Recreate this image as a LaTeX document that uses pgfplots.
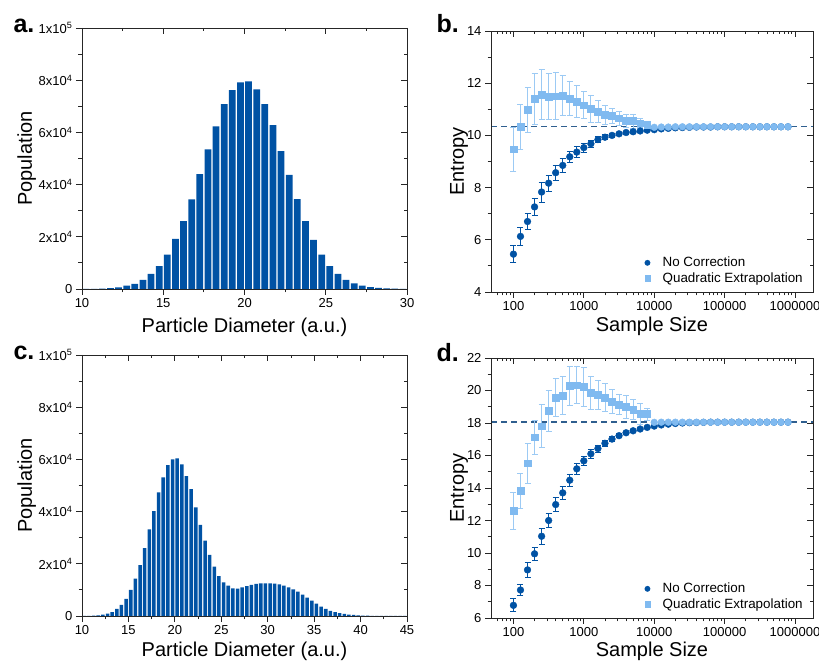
\documentclass[border=0pt]{standalone}
\usepackage{fontspec}
\setmainfont{Liberation Sans}
\usepackage{pgfplots}
\pgfplotsset{compat=1.18}
\definecolor{barblue}{HTML}{0052A4}
\definecolor{lightb}{HTML}{80BAF0}
\definecolor{lighterr}{HTML}{9CCAF4}
\definecolor{dashc}{HTML}{2F5F8F}
\pgfplotsset{
  base/.style={scale only axis, axis line style={line width=0.9pt, black!85},
    every tick/.style={black!85, line width=0.8pt},
    major tick length=6pt, minor tick length=3.5pt,
    tick label style={font=\fontsize{13}{15}\selectfont},
    label style={font=\fontsize{20}{24}\selectfont},
    scaled y ticks=false, scaled x ticks=false},
  mainax/.style={base, tick align=outside, xtick pos=bottom, ytick pos=left},
  mirrorax/.style={base, tick align=inside, xtick pos=top, ytick pos=right,
    xticklabels={}, yticklabels={}},
  darkpts/.style={only marks, mark=*, mark size=3.4pt, color=barblue,
    error bars/.cd, y dir=both, y explicit,
    error bar style={line width=0.8pt, barblue},
    error mark options={rotate=90, mark size=3pt, line width=0.8pt, barblue}},
  lightpts/.style={only marks, mark=square*, mark size=3.4pt, color=lightb,
    error bars/.cd, y dir=both, y explicit,
    error bar style={line width=0.8pt, lighterr},
    error mark options={rotate=90, mark size=3pt, line width=0.8pt, lighterr}},
  mylegend/.style={legend style={at={(axis description cs:0.466,0.016)}, anchor=south west, draw=none, fill=none,
    font=\fontsize{13.4}{15}\selectfont, row sep=0pt, inner sep=2pt, nodes={inner sep=2pt}},
    legend cell align=left,
    legend image code/.code={\path (-4pt,0pt) (13pt,0pt); \draw[##1, mark size=2.7pt] plot coordinates {(0pt,0pt)};}},
}
\begin{document}
\begin{tikzpicture}
\useasboundingbox (0,0) rectangle (819pt,661pt);
% ---------------- panel a
\begin{axis}[mainax, at={(82pt,372pt)}, anchor=south west, width=325pt, height=261pt,
  xmin=10, xmax=30, ymin=0, ymax=100000,
  xtick={10,15,20,25,30}, xticklabels={10,15,20,25,30},
  ytick={0,20000,40000,60000,80000,100000},
  yticklabels={0,2x10\textsuperscript{4},4x10\textsuperscript{4},6x10\textsuperscript{4},8x10\textsuperscript{4},1x10\textsuperscript{5}},
  minor xtick={12.5,17.5,22.5,27.5}, minor ytick={10000,30000,50000,70000,90000},
  xlabel={Particle Diameter (a.u.)}, ylabel={Population},
  xlabel style={at={(axis description cs:0.5,-0.165)}, anchor=base},
  ylabel style={at={(axis description cs:-0.17,0.5)}, anchor=center},
  ybar, bar width=0.42]
\addplot[fill=barblue, draw=none] coordinates {
(10.25,40) (10.75,80) (11.25,150) (11.75,300) (12.25,600) (12.75,1300) (13.25,2000) (13.75,3500)
(14.25,5800) (14.75,8800) (15.25,13200) (15.75,19200) (16.25,26000) (16.75,34300) (17.25,44000)
(17.75,53500) (18.25,62300) (18.75,70800) (19.25,76200) (19.75,79200) (20.25,79500) (20.75,76500)
(21.25,70800) (21.75,62800) (22.25,52800) (22.75,43700) (23.25,34400) (23.75,26000) (24.25,18800)
(24.75,13200) (25.25,8800) (25.75,5800) (26.25,3500) (26.75,2200) (27.25,1300) (27.75,700)
(28.25,400) (28.75,200) (29.25,100) (29.75,50)};
\end{axis}
\begin{axis}[mirrorax, at={(82pt,372pt)}, anchor=south west, width=325pt, height=261pt,
  xmin=10, xmax=30, ymin=0, ymax=100000,
  xtick={10,15,20,25,30}, minor xtick={12.5,17.5,22.5,27.5},
  ytick={0,20000,40000,60000,80000,100000}, minor ytick={10000,30000,50000,70000,90000}]
\end{axis}
% ---------------- panel c
\begin{axis}[mainax, at={(82pt,45pt)}, anchor=south west, width=325pt, height=261pt,
  xmin=10, xmax=45, ymin=0, ymax=100000,
  xtick={10,15,20,25,30,35,40,45}, xticklabels={10,15,20,25,30,35,40,45},
  minor xtick={12.5,17.5,22.5,27.5,32.5,37.5,42.5},
  ytick={0,20000,40000,60000,80000,100000}, minor ytick={10000,30000,50000,70000,90000},
  yticklabels={0,2x10\textsuperscript{4},4x10\textsuperscript{4},6x10\textsuperscript{4},8x10\textsuperscript{4},1x10\textsuperscript{5}},
  xlabel={Particle Diameter (a.u.)}, ylabel={Population},
  xlabel style={at={(axis description cs:0.5,-0.157)}, anchor=base},
  ylabel style={at={(axis description cs:-0.17,0.5)}, anchor=center},
  ybar, bar width=0.38]
\addplot[fill=barblue, draw=none] coordinates {
(10.25,30) (10.75,60) (11.25,120) (11.75,250) (12.25,500) (12.75,900) (13.25,1500) (13.75,2700)
(14.25,4300) (14.75,6600) (15.25,10000) (15.75,14300) (16.25,19500) (16.75,26000) (17.25,33200)
(17.75,40200) (18.25,47400) (18.75,53100) (19.25,57800) (19.75,60000) (20.25,60400) (20.75,58100)
(21.25,53600) (21.75,48600) (22.25,41600) (22.75,34900) (23.25,28900) (23.75,23400) (24.25,18900)
(24.75,15300) (25.25,12900) (25.75,11600) (26.25,10600) (26.75,10500) (27.25,11000) (27.75,11400)
(28.25,11900) (28.75,12300) (29.25,12500) (29.75,12500) (30.25,12500) (30.75,12400) (31.25,12100)
(31.75,11600) (32.25,11000) (32.75,10200) (33.25,9300) (33.75,8200) (34.25,7000) (34.75,5900)
(35.25,4700) (35.75,3600) (36.25,2700) (36.75,2000) (37.25,1500) (37.75,1100) (38.25,800)
(38.75,500) (39.25,400) (39.75,250) (40.25,150) (40.75,100) (41.25,60) (41.75,40) (42.25,20)
(42.75,10) (43.25,5) (43.75,5) (44.25,5) (44.75,5)};
\end{axis}
\begin{axis}[mirrorax, at={(82pt,45pt)}, anchor=south west, width=325pt, height=261pt,
  xmin=10, xmax=45, ymin=0, ymax=100000,
  xtick={10,15,20,25,30,35,40,45}, minor xtick={12.5,17.5,22.5,27.5,32.5,37.5,42.5},
  ytick={0,20000,40000,60000,80000,100000}, minor ytick={10000,30000,50000,70000,90000}]
\end{axis}
% ---------------- panel b
\begin{axis}[mainax, mylegend, xmode=log, xmin=48, xmax=1.8e6,
  xtick={100,1000,10000,100000,1000000},
  minor xtick={60,70,80,90,200,300,400,500,600,700,800,900,2000,3000,4000,5000,6000,7000,8000,9000,20000,30000,40000,50000,60000,70000,80000,90000,200000,300000,400000,500000,600000,700000,800000,900000},
  at={(491pt,369pt)}, anchor=south west, width=322pt, height=261pt,
  ymin=4, ymax=14, ytick={4,6,8,10,12,14}, yticklabels={4,6,8,10,12,14},
  minor ytick={5,7,9,11,13},
  xticklabels={100,1000,10000,100000,1000000},
  xlabel={Sample Size}, ylabel={Entropy},
  xlabel style={at={(axis description cs:0.5,-0.153)}, anchor=base},
  ylabel style={at={(axis description cs:-0.099,0.5)}, anchor=center}]
\addplot[dashc, line width=1.3pt, dash pattern=on 6pt off 4pt, forget plot] coordinates {(48,10.34) (1.8e6,10.34)};
\addplot[darkpts] coordinates {
(100,5.45) +- (0,0.32) (125.9,6.13) +- (0,0.35) (158.5,6.70) +- (0,0.31) (199.5,7.26) +- (0,0.32)
(251.2,7.83) +- (0,0.38) (316.2,8.17) +- (0,0.30) (398.1,8.57) +- (0,0.28) (501.2,8.85) +- (0,0.25)
(631.0,9.18) +- (0,0.22) (794.3,9.36) +- (0,0.20) (1000,9.53) +- (0,0.17) (1258.9,9.68) +- (0,0.14)
(1584.9,9.84) +- (0,0.12) (1995.3,9.93) +- (0,0.10) (2511.9,10.00) +- (0,0.08) (3162.3,10.06) +- (0,0.07)
(3981.1,10.11) +- (0,0.06) (5011.9,10.14) +- (0,0.05) (6309.6,10.17) +- (0,0.04) (7943.3,10.20) +- (0,0.04)
(10000,10.22) +- (0,0.03) (12589,10.25) +- (0,0.03) (15849,10.27) +- (0,0.02) (19953,10.29) +- (0,0.02)
(25119,10.30) +- (0,0.02) (31623,10.31) +- (0,0.01) (39811,10.32) +- (0,0.01) (50119,10.32) +- (0,0.01)
(63096,10.32) +- (0,0.01) (79433,10.33) +- (0,0.01) (100000,10.33) +- (0,0.01) (125893,10.33) +- (0,0.01)
(158489,10.33) +- (0,0.01) (199526,10.33) +- (0,0.01) (251189,10.33) +- (0,0.01) (316228,10.33) +- (0,0.01)
(398107,10.33) +- (0,0.01) (501187,10.33) +- (0,0.01) (630957,10.33) +- (0,0.01) (794328,10.33) +- (0,0.01)};
\addlegendentry{No Correction}
\addplot[lightpts] coordinates {
(100,9.47) +- (0,0.85) (125.9,10.33) +- (0,0.87) (158.5,10.97) +- (0,0.87) (199.5,11.41) +- (0,0.97)
(251.2,11.56) +- (0,0.95) (316.2,11.49) +- (0,0.87) (398.1,11.50) +- (0,0.90) (501.2,11.53) +- (0,0.77)
(631.0,11.40) +- (0,0.65) (794.3,11.30) +- (0,0.60) (1000,11.16) +- (0,0.52) (1258.9,11.02) +- (0,0.52)
(1584.9,10.91) +- (0,0.43) (1995.3,10.79) +- (0,0.36) (2511.9,10.75) +- (0,0.30) (3162.3,10.66) +- (0,0.27)
(3981.1,10.57) +- (0,0.25) (5011.9,10.55) +- (0,0.27) (6309.6,10.47) +- (0,0.17) (7943.3,10.40) +- (0,0.15)};
\addlegendentry{Quadratic Extrapolation}
\addplot[only marks, mark=*, mark size=3.4pt, color=lightb, forget plot] coordinates {
(10000,10.31) (12589,10.32) (15849,10.32) (19953,10.33) (25119,10.33) (31623,10.33) (39811,10.33)
(50119,10.33) (63096,10.33) (79433,10.33) (100000,10.33) (125893,10.33) (158489,10.33) (199526,10.33)
(251189,10.33) (316228,10.33) (398107,10.33) (501187,10.33) (630957,10.33) (794328,10.33)};
\end{axis}
\begin{axis}[mirrorax, xmode=log, xmin=48, xmax=1.8e6,
  xtick={100,1000,10000,100000,1000000},
  minor xtick={60,70,80,90,200,300,400,500,600,700,800,900,2000,3000,4000,5000,6000,7000,8000,9000,20000,30000,40000,50000,60000,70000,80000,90000,200000,300000,400000,500000,600000,700000,800000,900000},
  at={(491pt,369pt)}, anchor=south west, width=322pt, height=261pt,
  ymin=4, ymax=14, ytick={4,6,8,10,12,14}, minor ytick={5,7,9,11,13}]
\end{axis}
% ---------------- panel d
\begin{axis}[mainax, mylegend, xmode=log, xmin=48, xmax=1.8e6,
  xtick={100,1000,10000,100000,1000000},
  minor xtick={60,70,80,90,200,300,400,500,600,700,800,900,2000,3000,4000,5000,6000,7000,8000,9000,20000,30000,40000,50000,60000,70000,80000,90000,200000,300000,400000,500000,600000,700000,800000,900000},
  at={(491pt,43pt)}, anchor=south west, width=322pt, height=260pt,
  ymin=6, ymax=22, ytick={6,8,10,12,14,16,18,20,22}, yticklabels={6,8,10,12,14,16,18,20,22},
  minor ytick={7,9,11,13,15,17,19,21},
  xticklabels={100,1000,10000,100000,1000000},
  xlabel={Sample Size}, ylabel={Entropy},
  xlabel style={at={(axis description cs:0.5,-0.15)}, anchor=base},
  ylabel style={at={(axis description cs:-0.099,0.5)}, anchor=center}]
\addplot[dashc, line width=1.3pt, dash pattern=on 6pt off 4pt, forget plot] coordinates {(48,18.07) (1.8e6,18.07)};
\addplot[darkpts] coordinates {
(100,6.78) +- (0,0.40) (125.9,7.72) +- (0,0.35) (158.5,8.96) +- (0,0.45) (199.5,9.95) +- (0,0.40)
(251.2,11.03) +- (0,0.50) (316.2,12.00) +- (0,0.45) (398.1,12.98) +- (0,0.45) (501.2,13.70) +- (0,0.38)
(631.0,14.48) +- (0,0.38) (794.3,15.18) +- (0,0.35) (1000,15.67) +- (0,0.30) (1258.9,16.10) +- (0,0.26)
(1584.9,16.43) +- (0,0.22) (1995.3,16.75) +- (0,0.20) (2511.9,17.01) +- (0,0.15) (3162.3,17.22) +- (0,0.12)
(3981.1,17.40) +- (0,0.10) (5011.9,17.52) +- (0,0.08) (6309.6,17.63) +- (0,0.07) (7943.3,17.73) +- (0,0.06)
(10000,17.81) +- (0,0.05) (12589,17.88) +- (0,0.04) (15849,17.93) +- (0,0.03) (19953,17.97) +- (0,0.03)
(25119,18.00) +- (0,0.02) (31623,18.02) +- (0,0.02) (39811,18.03) +- (0,0.01) (50119,18.04) +- (0,0.01)
(63096,18.05) +- (0,0.01) (79433,18.05) +- (0,0.01) (100000,18.05) +- (0,0.01) (125893,18.05) +- (0,0.01)
(158489,18.05) +- (0,0.01) (199526,18.05) +- (0,0.01) (251189,18.05) +- (0,0.01) (316228,18.05) +- (0,0.01)
(398107,18.05) +- (0,0.01) (501187,18.05) +- (0,0.01) (630957,18.05) +- (0,0.01) (794328,18.05) +- (0,0.01)};
\addlegendentry{No Correction}
\addplot[lightpts] coordinates {
(100,12.59) +- (0,1.12) (125.9,13.84) +- (0,1.07) (158.5,15.52) +- (0,1.24) (199.5,17.13) +- (0,1.04)
(251.2,17.80) +- (0,1.32) (316.2,18.75) +- (0,1.26) (398.1,19.57) +- (0,1.18) (501.2,19.68) +- (0,1.18)
(631.0,20.30) +- (0,1.20) (794.3,20.33) +- (0,1.15) (1000,20.23) +- (0,1.19) (1258.9,19.86) +- (0,1.02)
(1584.9,19.72) +- (0,0.90) (1995.3,19.57) +- (0,0.84) (2511.9,19.30) +- (0,0.74) (3162.3,19.14) +- (0,0.60)
(3981.1,19.00) +- (0,0.72) (5011.9,18.83) +- (0,0.60) (6309.6,18.58) +- (0,0.65) (7943.3,18.55) +- (0,0.36)};
\addlegendentry{Quadratic Extrapolation}
\addplot[only marks, mark=*, mark size=3.4pt, color=lightb, forget plot] coordinates {
(10000,18.04) (12589,18.05) (15849,18.05) (19953,18.05) (25119,18.05) (31623,18.05) (39811,18.05)
(50119,18.05) (63096,18.05) (79433,18.05) (100000,18.05) (125893,18.05) (158489,18.05) (199526,18.05)
(251189,18.05) (316228,18.05) (398107,18.05) (501187,18.05) (630957,18.05) (794328,18.05)};
\end{axis}
\begin{axis}[mirrorax, xmode=log, xmin=48, xmax=1.8e6,
  xtick={100,1000,10000,100000,1000000},
  minor xtick={60,70,80,90,200,300,400,500,600,700,800,900,2000,3000,4000,5000,6000,7000,8000,9000,20000,30000,40000,50000,60000,70000,80000,90000,200000,300000,400000,500000,600000,700000,800000,900000},
  at={(491pt,43pt)}, anchor=south west, width=322pt, height=260pt,
  ymin=6, ymax=22, ytick={6,8,10,12,14,16,18,20,22}, minor ytick={7,9,11,13,15,17,19,21}]
\end{axis}
% ---------------- panel letters
\node[anchor=base west, font=\bfseries\fontsize{25}{28}\selectfont] at (10pt,628pt) {a.};
\node[anchor=base west, font=\bfseries\fontsize{25}{28}\selectfont] at (433pt,628pt) {b.};
\node[anchor=base west, font=\bfseries\fontsize{25}{28}\selectfont] at (10pt,301pt) {c.};
\node[anchor=base west, font=\bfseries\fontsize{25}{28}\selectfont] at (433pt,299pt) {d.};
\end{tikzpicture}
\end{document}
